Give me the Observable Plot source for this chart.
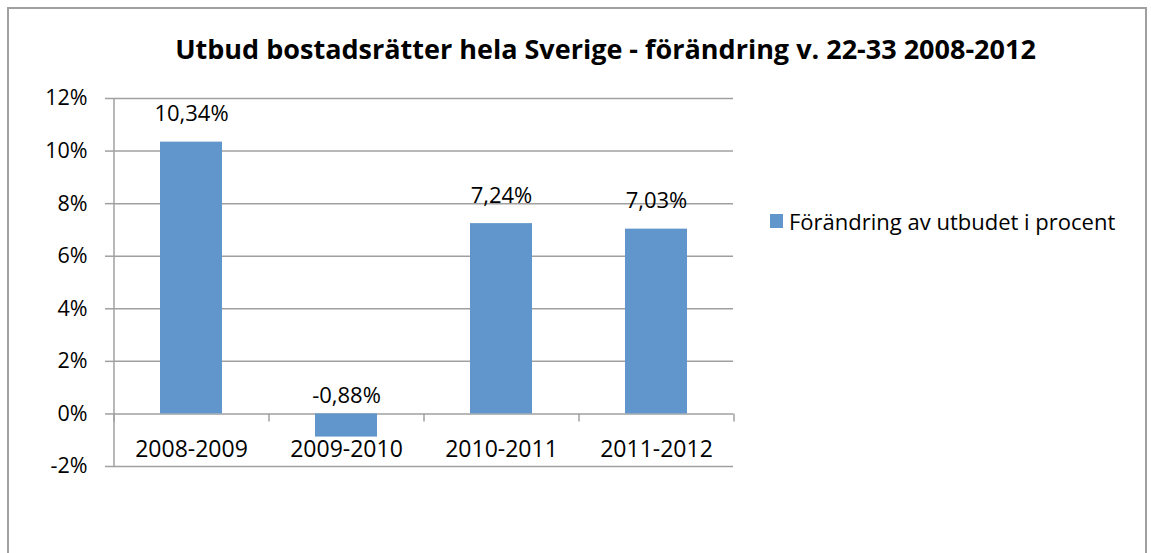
<!DOCTYPE html>
<html>
<head>
<meta charset="utf-8">
<script src="https://cdn.jsdelivr.net/npm/d3@7"></script>
<script src="https://cdn.jsdelivr.net/npm/@observablehq/plot@0.6"></script>
<style>
  html, body { margin: 0; padding: 0; background: #fff; }
  #wrap { position: relative; width: 1151px; height: 553px; overflow: hidden; font-family: "Open Sans", sans-serif; }
  #border { position: absolute; left: 7px; top: 7px; width: 1140px; height: 600px; border: 2px solid #a0a0a0; box-sizing: border-box; pointer-events: none; }
  #chart { position: absolute; left: 0; top: 0; }
  #legend { position: absolute; left: 770px; top: 206px; display: flex; align-items: center; font-size: 22px; color: #000; white-space: nowrap; }
  #legend .sw { width: 13px; height: 14px; margin-right: 6px; }
</style>
</head>
<body>
<div id="wrap">
  <div id="chart"></div>
  <div id="border"></div>
  <div id="legend"><span class="sw"></span><span id="legtext"></span></div>
</div>
<script>
const title = "Utbud bostadsrätter hela Sverige - förändring v. 22-33 2008-2012";
const seriesName = "Förändring av utbudet i procent";
const categories = ["2008-2009", "2009-2010", "2010-2011", "2011-2012"];
const values = [10.34, -0.88, 7.24, 7.03];
const valueLabels = ["10,34%", "-0,88%", "7,24%", "7,03%"];
const yTicks = [-2, 0, 2, 4, 6, 8, 10, 12];
const barColor = "#6096CB";
const gridColor = "#a0a0a0";

const data = categories.map((c, i) => ({cat: c, value: values[i], label: valueLabels[i]}));

const W = 1151, H = 553;
const mL = 113, mR = 418, mT = 98, mB = 87;
const step = (W - mL - mR) / categories.length;
const yPerUnit = (H - mT - mB) / (12 - (-2));
const tickLenUnits = 8 / yPerUnit;
const titleCenter = 605;
const frameCenter = mL + (W - mL - mR) / 2;

const fontFamily = '"Open Sans", sans-serif';

const chart = Plot.plot({
  width: W,
  height: H,
  marginLeft: mL,
  marginRight: mR,
  marginTop: mT,
  marginBottom: mB,
  style: {fontFamily, fontSize: "21px", color: "#000", background: "#fff"},
  x: {type: "band", domain: categories, paddingInner: 0.6, paddingOuter: 0.3, axis: null},
  y: {domain: [-2, 12], axis: null},
  marks: [
    Plot.ruleY(yTicks, {y: d => d, stroke: gridColor, strokeWidth: 1.5, strokeOpacity: 1}),
    Plot.axisY({ticks: yTicks, tickSize: 8, tickPadding: 18, tickFormat: d => d + "%", stroke: gridColor, strokeWidth: 1.5, strokeOpacity: 1, fontSize: 21.5, fill: "#000", label: null}),
    Plot.barY(data, {x: "cat", y: "value", fill: barColor}),
    Plot.ruleX(data, {x: "cat", y1: 0, y2: -tickLenUnits, dx: -step / 2, stroke: gridColor, strokeWidth: 1.5}),
    Plot.ruleX(data.slice(-1), {x: "cat", y1: 0, y2: -tickLenUnits, dx: step / 2, stroke: gridColor, strokeWidth: 1.5}),
    Plot.ruleX(data.slice(0, 1), {x: "cat", y1: -2, y2: 12, dx: -step / 2, stroke: gridColor, strokeWidth: 1.5}),
    Plot.text(data.filter(d => d.value >= 0), {x: "cat", y: "value", text: "label", dy: -28, fontSize: 22, fill: "#000"}),
    Plot.text(data.filter(d => d.value < 0), {x: "cat", y: 0, text: "label", dy: -18, fontSize: 22, fill: "#000"}),
    Plot.text(categories, {x: d => d, frameAnchor: "bottom", dy: -10, fontSize: 23, fill: "#000"}),
    Plot.text([title], {frameAnchor: "top", dy: -40, dx: titleCenter - frameCenter, fontSize: 27, fontWeight: "bold", fill: "#000", text: d => d, lineAnchor: "bottom"})
  ]
});
document.getElementById("chart").appendChild(chart);
document.querySelector("#legend .sw").style.background = barColor;
document.getElementById("legtext").textContent = seriesName;
</script>
</body>
</html>
